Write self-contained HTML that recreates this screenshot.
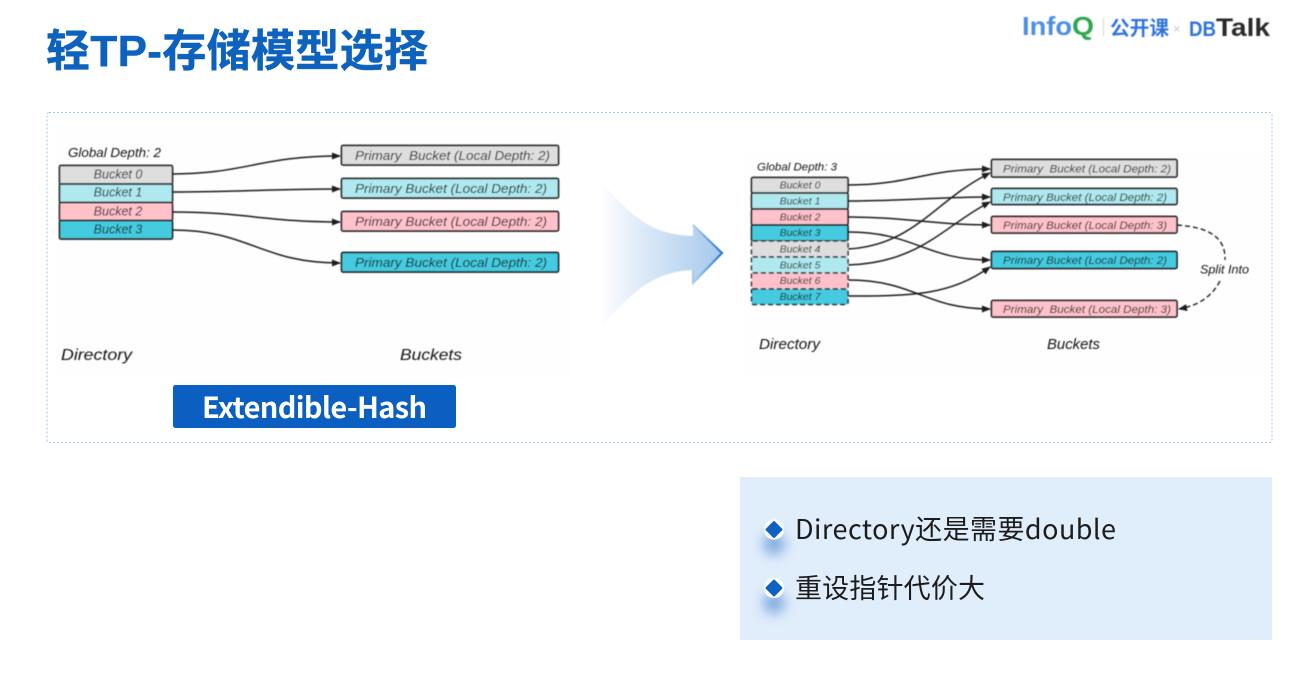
<!DOCTYPE html>
<html lang="zh">
<head>
<meta charset="utf-8">
<title>轻TP-存储模型选择</title>
<style>
html,body{margin:0;padding:0;background:#fff;width:1305px;height:688px;overflow:hidden}
svg{display:block}
text{font-family:"Liberation Sans","Noto Sans CJK SC",sans-serif}
.i{font-style:italic;fill:#141414}
.c{stroke:#1c1c1c;stroke-width:1.5;fill:none}
.b{stroke:#222;stroke-width:1.7}
.bd{stroke:#222;stroke-width:1.5;stroke-dasharray:5 3}
</style>
</head>
<body>
<svg width="1305" height="688" viewBox="0 0 1305 688" xmlns="http://www.w3.org/2000/svg">
<defs>
<linearGradient id="ag" x1="600" y1="0" x2="722" y2="0" gradientUnits="userSpaceOnUse">
<stop offset="0" stop-color="#ffffff"/>
<stop offset="0.25" stop-color="#e6eff9"/>
<stop offset="1" stop-color="#a4c8ec"/>
</linearGradient>
<linearGradient id="ae" x1="695" y1="0" x2="722" y2="0" gradientUnits="userSpaceOnUse">
<stop offset="0" stop-color="#a4c8ec"/>
<stop offset="1" stop-color="#1c6fc8"/>
</linearGradient>
<marker id="m" markerWidth="9" markerHeight="8" refX="8" refY="3.5" orient="auto" markerUnits="userSpaceOnUse">
<path d="M0,0 L9,3.5 L0,7 z" fill="#1c1c1c"/>
</marker>
<filter id="s" filterUnits="userSpaceOnUse" x="0" y="0" width="1305" height="688"><feGaussianBlur stdDeviation="0.6"/></filter>
<filter id="t" filterUnits="userSpaceOnUse" x="0" y="0" width="1305" height="688"><feGaussianBlur stdDeviation="0.3"/></filter>
<filter id="sh" filterUnits="userSpaceOnUse" x="730" y="500" width="90" height="140"><feGaussianBlur stdDeviation="6"/></filter>
</defs>

<!-- Title -->
<text x="46" y="66" font-size="44" font-weight="700" fill="#0f62bd" stroke="#0f62bd" stroke-width="0.5" textLength="382" filter="url(#t)">轻TP-存储模型选择</text>

<!-- Logo -->
<g filter="url(#s)">
<text x="1022" y="35" font-size="26" font-weight="700" fill="#4c8fe9" textLength="50" lengthAdjust="spacingAndGlyphs">Info</text>
<text x="1072" y="35" font-size="26" font-weight="700" fill="#2fa84f" textLength="22" lengthAdjust="spacingAndGlyphs">Q</text>
<rect x="1103" y="18" width="1" height="18" fill="#d5d5d5"/>
<text x="1110" y="35" font-size="20" font-weight="700" fill="#2f73e0" textLength="59" lengthAdjust="spacingAndGlyphs">公开课</text>
<text x="1173" y="33" font-size="13" fill="#c8c8c8">×</text>
<text x="1189" y="36" font-size="21" font-weight="700" fill="#2f73e0" textLength="27" lengthAdjust="spacingAndGlyphs">DB</text>
<text x="1216" y="36" font-size="25" font-weight="700" fill="#2b2b2b" textLength="54" lengthAdjust="spacingAndGlyphs">Talk</text>
</g>

<!-- Dashed panel -->
<rect x="47" y="112.5" width="1225" height="330" rx="2" fill="#fff" stroke="#a9c8e6" stroke-width="1" stroke-dasharray="2 2"/>
<rect x="54" y="128" width="517" height="250" fill="#fefefe"/>
<rect x="744" y="150" width="518" height="228" fill="#fefefe"/>

<!-- Left diagram -->
<g filter="url(#s)">
<text x="68" y="157" font-size="12.500" class="i" textLength="93" lengthAdjust="spacingAndGlyphs">Global Depth: 2</text>
<rect x="59.5" y="165.5" width="113" height="18.5" rx="1.5" fill="#dedede" class="b"/>
<rect x="59.5" y="184" width="113" height="18.5" rx="1.5" fill="#afe9ef" class="b"/>
<rect x="59.5" y="202.5" width="113" height="18" rx="1.5" fill="#ffc2cb" class="b"/>
<rect x="59.5" y="220.5" width="113" height="18.5" rx="1.5" fill="#45cbdf" class="b"/>
<g font-size="12.500" text-anchor="middle" class="i">
<text x="118" y="178.500">Bucket 0</text>
<text x="118" y="196.500">Bucket 1</text>
<text x="118" y="215.500">Bucket 2</text>
<text x="118" y="233.500">Bucket 3</text>
</g>
<rect x="341.5" y="145.5" width="217" height="19.5" rx="1.5" fill="#dedede" class="b"/>
<rect x="341.5" y="178.5" width="217" height="19.5" rx="1.5" fill="#afe9ef" class="b"/>
<rect x="341.5" y="211.5" width="217" height="19.5" rx="1.5" fill="#ffc2cb" class="b"/>
<rect x="341.5" y="252.5" width="217" height="19.5" rx="1.5" fill="#45cbdf" class="b"/>
<g font-size="12.800" class="i">
<text x="355" y="160" textLength="195" lengthAdjust="spacingAndGlyphs" xml:space="preserve">Primary  Bucket (Local Depth: 2)</text>
<text x="355" y="193" textLength="192" lengthAdjust="spacingAndGlyphs">Primary Bucket (Local Depth: 2)</text>
<text x="355" y="226" textLength="192" lengthAdjust="spacingAndGlyphs">Primary Bucket (Local Depth: 2)</text>
<text x="355" y="267" textLength="192" lengthAdjust="spacingAndGlyphs">Primary Bucket (Local Depth: 2)</text>
</g>
<path class="c" marker-end="url(#m)" d="M172,174 C245,174 260,156 340,156"/>
<path class="c" marker-end="url(#m)" d="M172,192 C240,192 270,189 340,189"/>
<path class="c" marker-end="url(#m)" d="M172,212 C245,212 265,222 340,222"/>
<path class="c" marker-end="url(#m)" d="M172,230 C250,230 260,263 340,263"/>
<text x="61" y="360" font-size="16" class="i" textLength="71" lengthAdjust="spacingAndGlyphs">Directory</text>
<text x="400" y="360" font-size="16" class="i" textLength="62" lengthAdjust="spacingAndGlyphs">Buckets</text>
</g>

<!-- Extendible-Hash button -->
<rect x="173" y="385" width="283" height="43" rx="2.500" fill="#0a5fc0"/>
<text x="202" y="418" font-size="29" font-weight="700" fill="#fff" style="font-family:'Noto Sans CJK SC',sans-serif" textLength="225">Extendible-Hash</text>

<!-- Big arrow -->
<path d="M600,180 C630,215 650,235 693,236 L693,225 L722,253 L693,283 L693,270 C650,272 630,295 600,328 Z" fill="url(#ag)" filter="url(#s)"/>
<path d="M693,225 L722,253 L693,283 L693,270" fill="none" stroke="url(#ae)" stroke-width="2" filter="url(#s)"/>

<!-- Right diagram -->
<g filter="url(#s)">
<text x="757" y="170.500" font-size="11" class="i" textLength="80" lengthAdjust="spacingAndGlyphs">Global Depth: 3</text>
<rect x="751.500" y="177.500" width="96.500" height="15.500" rx="1.500" fill="#dedede" class="b"/>
<rect x="751.500" y="193" width="96.500" height="16" rx="1.500" fill="#afe9ef" class="b"/>
<rect x="751.500" y="209" width="96.500" height="16" rx="1.500" fill="#ffc2cb" class="b"/>
<rect x="751.500" y="225" width="96.500" height="16" rx="1.500" fill="#45cbdf" class="b"/>
<rect x="751.500" y="241" width="96.500" height="16" rx="1.500" fill="#dedede" class="bd"/>
<rect x="751.500" y="257" width="96.500" height="16" rx="1.500" fill="#afe9ef" class="bd"/>
<rect x="751.500" y="273" width="96.500" height="16" rx="1.500" fill="#ffc2cb" class="bd"/>
<rect x="751.500" y="289" width="96.500" height="15.500" rx="1.500" fill="#45cbdf" class="bd"/>
<g font-size="10.500" text-anchor="middle" class="i">
<text x="800" y="188.500">Bucket 0</text>
<text x="800" y="204.500">Bucket 1</text>
<text x="800" y="220.500">Bucket 2</text>
<text x="800" y="236">Bucket 3</text>
<text x="800" y="252.500">Bucket 4</text>
<text x="800" y="268.500">Bucket 5</text>
<text x="800" y="284">Bucket 6</text>
<text x="800" y="300">Bucket 7</text>
</g>
<rect x="991.500" y="159.500" width="185.500" height="17.500" rx="1.500" fill="#dedede" class="b"/>
<rect x="991.500" y="188.500" width="185.500" height="16" rx="1.500" fill="#afe9ef" class="b"/>
<rect x="991.500" y="216.500" width="185.500" height="16.500" rx="1.500" fill="#ffc2cb" class="b"/>
<rect x="991.500" y="251.500" width="185.500" height="17" rx="1.500" fill="#45cbdf" class="b"/>
<rect x="991.500" y="300.500" width="185.500" height="16.500" rx="1.500" fill="#ffc2cb" class="b"/>
<g font-size="11" class="i">
<text x="1003" y="172.500" textLength="168" lengthAdjust="spacingAndGlyphs" xml:space="preserve">Primary  Bucket (Local Depth: 2)</text>
<text x="1003" y="200.800" textLength="164" lengthAdjust="spacingAndGlyphs">Primary Bucket (Local Depth: 2)</text>
<text x="1003" y="229" textLength="164" lengthAdjust="spacingAndGlyphs">Primary Bucket (Local Depth: 3)</text>
<text x="1003" y="264" textLength="164" lengthAdjust="spacingAndGlyphs">Primary Bucket (Local Depth: 2)</text>
<text x="1003" y="313" textLength="168" lengthAdjust="spacingAndGlyphs" xml:space="preserve">Primary  Bucket (Local Depth: 3)</text>
</g>
<path class="c" marker-end="url(#m)" d="M848,185 C910,185 925,169 990,169"/>
<path class="c" marker-end="url(#m)" d="M848,201 C900,201 940,197 990,197"/>
<path class="c" marker-end="url(#m)" d="M848,217 C905,217 935,225 990,225"/>
<path class="c" marker-end="url(#m)" d="M848,232 C915,232 925,260 990,260"/>
<path class="c" marker-end="url(#m)" d="M848,249 C915,245 935,200 990,173"/>
<path class="c" marker-end="url(#m)" d="M848,265 C920,263 945,225 990,202"/>
<path class="c" marker-end="url(#m)" d="M848,280 C915,280 925,309 990,309"/>
<path class="c" marker-end="url(#m)" d="M848,296 C915,296 950,295 990,267"/>
<path d="M1177,225 C1205,227 1226,235 1225,260" fill="none" stroke="#222" stroke-width="1.400" stroke-dasharray="5 3"/>
<path d="M1220,281 C1212,296 1200,305 1179,309" fill="none" stroke="#222" stroke-width="1.400" stroke-dasharray="5 3" marker-end="url(#m)"/>
<text x="1200" y="273.500" font-size="11.500" class="i" textLength="49" lengthAdjust="spacingAndGlyphs">Split Into</text>
<text x="759" y="349" font-size="14.500" class="i" textLength="61" lengthAdjust="spacingAndGlyphs">Directory</text>
<text x="1047" y="349" font-size="14.500" class="i" textLength="53" lengthAdjust="spacingAndGlyphs">Buckets</text>
</g>

<!-- Info box -->
<rect x="740" y="477" width="532" height="163" fill="#e0edfb"/>
<ellipse cx="774" cy="544" rx="11" ry="11" fill="#6fa0dc" opacity="0.85" filter="url(#sh)"/>
<ellipse cx="774" cy="603" rx="11" ry="11" fill="#6fa0dc" opacity="0.85" filter="url(#sh)"/>
<circle cx="774" cy="529.500" r="10" fill="#fff"/>
<circle cx="774" cy="588" r="10" fill="#fff"/>
<path d="M774,522 L781.500,529.500 L774,537 L766.500,529.500 Z" fill="#0d62c4" stroke="#0d62c4" stroke-width="2" stroke-linejoin="round"/>
<path d="M774,580.500 L781.500,588 L774,595.500 L766.500,588 Z" fill="#0d62c4" stroke="#0d62c4" stroke-width="2" stroke-linejoin="round"/>
<text x="795" y="539" font-size="27" fill="#1c1c1c" style="font-family:'Noto Sans CJK SC',sans-serif" textLength="321">Directory还是需要double</text>
<text x="795" y="598" font-size="27" fill="#1c1c1c" style="font-family:'Noto Sans CJK SC',sans-serif" textLength="190">重设指针代价大</text>
</svg>
</body>
</html>
